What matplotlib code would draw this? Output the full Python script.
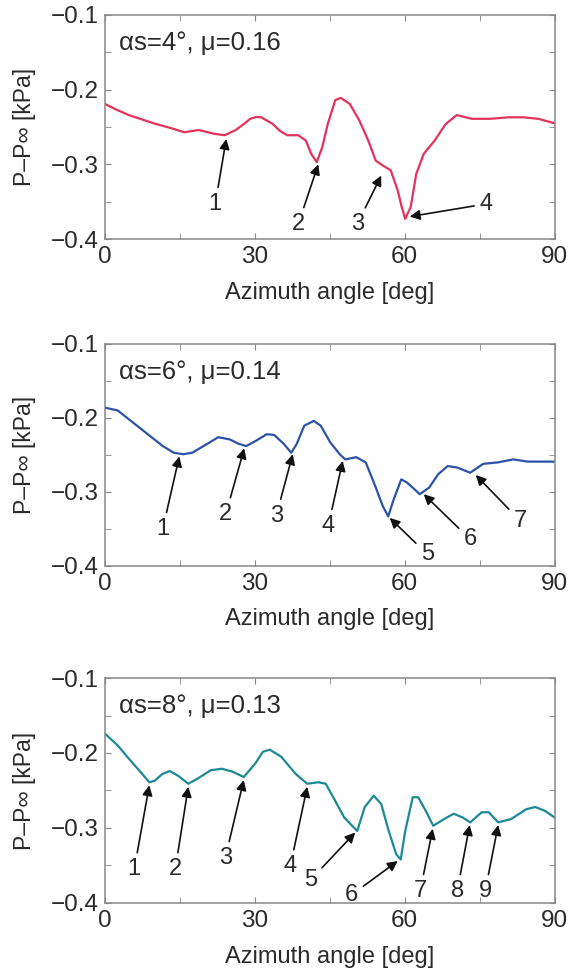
import matplotlib
matplotlib.use("Agg")
import matplotlib.pyplot as plt
from matplotlib.ticker import MultipleLocator

plt.rcParams["font.family"] = ["Liberation Sans", "DejaVu Sans"]
plt.rcParams["axes.unicode_minus"] = True

# --- panel 1: alpha_s = 4 deg ---
angle_4 = [0, 2.4, 4.8, 7.5, 10, 13, 15.9, 18.8, 21.8, 24, 26.2, 28, 29.1, 30.3,
           31.3, 33.6, 35, 36.5, 38.7, 40.2, 41.3, 42.4, 43.5, 44.6, 46.1, 47.2,
           49, 50.9, 52.7, 54.2, 55.7, 57.2, 58.6, 59.4, 60.1, 61.2, 62.3, 63.8,
           66, 68.2, 70.4, 73.4, 77.1, 80.8, 83.7, 86.7, 90]
p_4 = [-0.219, -0.227, -0.234, -0.240, -0.2455, -0.251, -0.257, -0.254, -0.259,
       -0.261, -0.254, -0.245, -0.239, -0.2365, -0.237, -0.246, -0.255, -0.261,
       -0.261, -0.268, -0.286, -0.297, -0.277, -0.246, -0.214, -0.211, -0.219,
       -0.241, -0.268, -0.295, -0.302, -0.308, -0.335, -0.357, -0.373, -0.357,
       -0.313, -0.286, -0.268, -0.246, -0.234, -0.239, -0.239, -0.237, -0.237,
       -0.239, -0.245]
marks_4 = ["1", "2", "3", "4"]
tips_4 = [(24.3, -0.266), (42.7, -0.300), (55.3, -0.315), (61.0, -0.370)]
texts_4 = [(22.1, -0.353), (38.7, -0.380), (50.5, -0.380), (76.3, -0.353)]

# --- panel 2: alpha_s = 6 deg ---
angle_6 = [0, 2.6, 5.6, 8.6, 11.6, 13.8, 15.7, 17.5, 20.5, 22.7, 25, 26.8, 28.3,
           30.2, 32.4, 33.9, 35.8, 37.3, 38.4, 39.9, 41.8, 43.2, 45.1, 47, 48.1,
           50.3, 52.2, 54.1, 55.6, 56.7, 57.8, 59.3, 60.4, 61.9, 63, 64.9, 66.7,
           68.6, 70.5, 73.1, 75.7, 78.7, 81.7, 84.6, 90]
p_6 = [-0.186, -0.190, -0.206, -0.222, -0.238, -0.247, -0.249, -0.247, -0.235,
       -0.226, -0.229, -0.235, -0.238, -0.231, -0.222, -0.223, -0.235, -0.247,
       -0.235, -0.2105, -0.204, -0.2105, -0.233, -0.249, -0.256, -0.253, -0.260,
       -0.292, -0.319, -0.333, -0.310, -0.283, -0.287, -0.296, -0.303, -0.294,
       -0.276, -0.265, -0.267, -0.274, -0.262, -0.260, -0.256, -0.259, -0.259]
marks_6 = ["1", "2", "3", "4", "5", "6", "7"]
tips_6 = [(14.9, -0.252), (27.9, -0.241), (37.6, -0.249), (47.6, -0.258),
          (57.0, -0.335), (63.8, -0.303), (74.2, -0.277)]
texts_6 = [(11.6, -0.350), (24.2, -0.330), (34.3, -0.332), (44.7, -0.346),
           (64.5, -0.384), (73.1, -0.364), (83.1, -0.339)]

# --- panel 3: alpha_s = 8 deg ---
angle_8 = [0, 2.6, 4.8, 7.1, 8.9, 10, 11.5, 13, 14.8, 16.7, 18.6, 21.2, 23.4,
           25.6, 27.8, 30.1, 31.6, 33, 35.3, 38.2, 40.5, 42.7, 44.2, 45.7, 47.9,
           50.5, 52, 53.8, 55.3, 56.8, 58.3, 59.2, 60.1, 61.6, 62.7, 64.2, 65.7,
           67.9, 69.8, 71.6, 73.1, 75.4, 76.8, 78.7, 81.3, 84.3, 86.1, 88, 90]
p_8 = [-0.174, -0.190, -0.2075, -0.225, -0.239, -0.237, -0.228, -0.224, -0.231,
       -0.241, -0.234, -0.223, -0.221, -0.225, -0.232, -0.214, -0.1985, -0.1955,
       -0.205, -0.228, -0.241, -0.239, -0.241, -0.259, -0.286, -0.304, -0.272,
       -0.257, -0.268, -0.304, -0.335, -0.342, -0.304, -0.259, -0.259, -0.277,
       -0.297, -0.288, -0.281, -0.286, -0.2925, -0.279, -0.279, -0.2925, -0.288,
       -0.275, -0.272, -0.277, -0.286]
marks_8 = ["1", "2", "3", "4", "5", "6", "7", "8", "9"]
tips_8 = [(8.9, -0.243), (16.7, -0.245), (27.8, -0.236), (40.5, -0.245),
          (50.1, -0.306), (58.6, -0.344), (65.6, -0.301), (73.0, -0.296),
          (78.7, -0.296)]
texts_8 = [(5.9, -0.355), (14.1, -0.355), (24.1, -0.340), (37.1, -0.351),
           (41.2, -0.369), (49.4, -0.389), (63.1, -0.384), (70.5, -0.384),
           (76.1, -0.384)]

panels = [
    (angle_4, p_4, "#e4325c", "αs=4°, μ=0.16", marks_4, tips_4, texts_4),
    (angle_6, p_6, "#2c52a8", "αs=6°, μ=0.14", marks_6, tips_6, texts_6),
    (angle_8, p_8, "#1b8a96", "αs=8°, μ=0.13", marks_8, tips_8, texts_8),
]
# axes boxes in figure fractions (left, bottom, width, height)
boxes = [(0.181, 0.7546, 0.777, 0.230),
         (0.181, 0.4189, 0.777, 0.228),
         (0.181, 0.0729, 0.777, 0.231)]

fig = plt.figure(figsize=(5.79, 9.74), dpi=100)
txt = "#2a2a2a"

for (x, y, color, title, marks, tips, texts), box in zip(panels, boxes):
    ax = fig.add_axes(box)
    ax.plot(x, y, color=color, lw=1.6)
    ax.set_xlim(0, 90)
    ax.set_ylim(-0.4, -0.1)
    ax.set_xticks([0, 30, 60, 90])
    ax.set_yticks([-0.4, -0.3, -0.2, -0.1])
    ax.set_yticklabels(["\u22120.4", "\u22120.3", "\u22120.2", "\u22120.1"])
    ax.xaxis.set_minor_locator(MultipleLocator(15))
    ax.yaxis.set_minor_locator(MultipleLocator(0.05))
    ax.tick_params(which="both", direction="in", top=True, right=True,
                   labelsize=17.5, color="#888888", labelcolor=txt, length=4)
    ax.tick_params(axis="y", pad=4)
    ax.tick_params(axis="x", pad=5)
    for s in ax.spines.values():
        s.set_color("#888888")
        s.set_linewidth(1.1)
    ax.set_xlabel("Azimuth angle [deg]", fontsize=17, color=txt, va="top")
    ax.xaxis.set_label_coords(0.5, -0.19)
    ax.set_ylabel("P\u2013P\u221e [kPa]", fontsize=16.5, color=txt, va="center")
    ax.yaxis.set_label_coords(-0.178, 0.5)
    ax.text(2.8, -0.1375, title, fontsize=18.5, color=txt, va="center")
    for m, tip, tx in zip(marks, tips, texts):
        ax.annotate(m, xy=tip, xytext=tx, ha="center", va="center",
                    fontsize=17, color=txt,
                    arrowprops=dict(arrowstyle="-|>", color="#111111", lw=1.2,
                                    mutation_scale=15, shrinkA=2, shrinkB=0))

fig.savefig("out.png", dpi=100)
